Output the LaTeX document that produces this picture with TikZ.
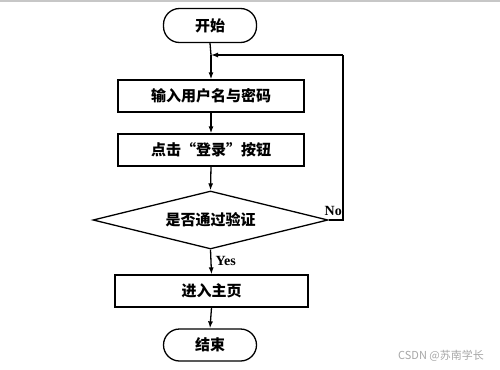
\documentclass[tikz,border=0pt]{standalone}
\usepackage{fontspec}
\newfontfamily\cjk{Noto Sans CJK SC}[BoldFont={* Black}]
\newfontfamily\lat{Liberation Serif}
\usetikzlibrary{shapes.geometric,arrows.meta}
\begin{document}
\begin{tikzpicture}[x=1pt,y=-1pt,
  every node/.style={font=\cjk\bfseries\fontsize{15}{17}\selectfont},
  term/.style={draw,line width=1.3pt,rounded corners=16pt,minimum width=93pt,minimum height=34pt,inner sep=0pt},
  proc/.style={draw,line width=1.3pt,minimum width=186pt,minimum height=32pt,inner sep=0pt},
  dec/.style={draw,line width=1.3pt,diamond,aspect=4.05,minimum width=235pt,minimum height=58pt,inner sep=0pt},
  lab/.style={font=\lat\bfseries\fontsize{14}{15}\selectfont,inner sep=0pt},
  arr/.style={line width=1.3pt,-{Latex[length=7pt,width=5pt]}}]
\useasboundingbox (0,0) rectangle (500,369);
\fill[black!22] (0,0) rectangle (500,2.5);
\node[term] (start) at (210,25.5) {开始};
\node[proc] (in) at (211,96) {输入用户名与密码};
\node[proc] (click) at (211,150) {点击“登录”按钮};
\node[dec] (ver) at (210.5,220) {是否通过验证};
\node[proc,minimum width=193pt] (home) at (211.5,291) {进入主页};
\node[term,minimum height=32pt] (end) at (210,345) {结束};
\coordinate (j) at (211,55);
\coordinate (c1) at (343,220);
\coordinate (c2) at (343,55);
\draw[line width=1.3pt] (start.south) -- (j);
\draw[arr] (j) -- (in.north);
\draw[arr] (in.south) -- (click.north);
\draw[arr] (click.south) -- (ver.north);
\draw[arr] (ver.south) -- node[lab,right=4pt,pos=0.45]{Yes} (home.north);
\draw[arr] (home.south) -- (end.north);
\draw[line width=1.3pt] (ver.east) -- (c1) -- (c2);
\draw[arr] (c2) -- (j);
\node[lab,anchor=south east] (no) at (342,216) {No};
\node[font=\fontspec{Noto Sans CJK SC}\fontsize{11}{12}\selectfont,text=black!35,inner sep=0pt] (wm) at (441,356) {CSDN @苏南学长};
\end{tikzpicture}
\end{document}
